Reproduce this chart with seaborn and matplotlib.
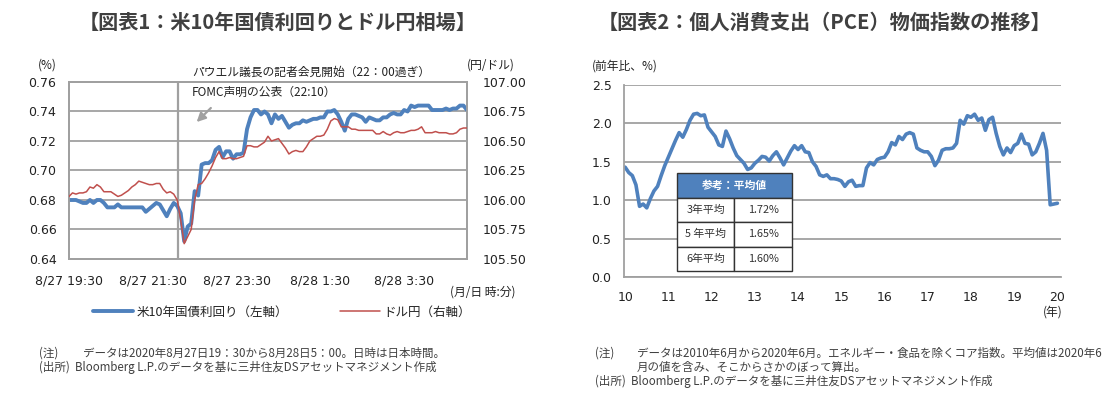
import matplotlib
matplotlib.use("Agg")
import matplotlib.pyplot as plt
import seaborn as sns
import numpy as np
import pandas as pd

# ---------------------------------------------------------------
# data : chart 1 (5-minute steps from 8/27 19:30 to 8/28 5:00)
# ---------------------------------------------------------------
minutes = list(range(0, 575, 5))

us10y = [
    0.680, 0.680, 0.680, 0.679, 0.678, 0.678, 0.680, 0.678, 0.680, 0.680,
    0.678, 0.675, 0.675, 0.675, 0.677, 0.675, 0.675, 0.675, 0.675, 0.675,
    0.675, 0.675, 0.672, 0.674, 0.676, 0.678, 0.677, 0.673, 0.669, 0.674,
    0.678, 0.676, 0.671, 0.652, 0.662, 0.664, 0.686, 0.683, 0.704, 0.705,
    0.705, 0.707, 0.714, 0.716, 0.709, 0.713, 0.713, 0.708, 0.711, 0.711,
    0.712, 0.728, 0.736, 0.741, 0.741, 0.738, 0.740, 0.738, 0.732, 0.738,
    0.735, 0.737, 0.733, 0.729, 0.731, 0.732, 0.732, 0.734, 0.733, 0.734,
    0.735, 0.735, 0.736, 0.736, 0.740, 0.740, 0.741, 0.738, 0.733, 0.727,
    0.735, 0.738, 0.738, 0.737, 0.736, 0.733, 0.736, 0.735, 0.734, 0.734,
    0.736, 0.736, 0.738, 0.739, 0.738, 0.738, 0.741, 0.740, 0.744, 0.743,
    0.744, 0.744, 0.744, 0.744, 0.741, 0.741, 0.741, 0.741, 0.742, 0.741,
    0.742, 0.742, 0.744, 0.744, 0.741,
]

usdjpy = [
    106.03, 106.06, 106.05, 106.06, 106.06, 106.07, 106.11, 106.10, 106.13, 106.11,
    106.07, 106.07, 106.07, 106.05, 106.03, 106.04, 106.06, 106.08, 106.11, 106.13,
    106.16, 106.15, 106.14, 106.13, 106.13, 106.14, 106.14, 106.09, 106.06, 106.07,
    106.05, 106.00, 105.83, 105.63, 105.69, 105.75, 106.00, 106.13, 106.14, 106.18,
    106.23, 106.29, 106.36, 106.41, 106.35, 106.35, 106.36, 106.35, 106.35, 106.36,
    106.37, 106.46, 106.46, 106.45, 106.45, 106.47, 106.49, 106.54, 106.50, 106.51,
    106.52, 106.48, 106.44, 106.39, 106.41, 106.42, 106.41, 106.41, 106.45, 106.50,
    106.52, 106.54, 106.54, 106.55, 106.60, 106.67, 106.69, 106.68, 106.62, 106.62,
    106.62, 106.60, 106.60, 106.59, 106.59, 106.59, 106.59, 106.59, 106.56, 106.56,
    106.58, 106.56, 106.55, 106.57, 106.58, 106.57, 106.57, 106.58, 106.59, 106.59,
    106.60, 106.62, 106.57, 106.57, 106.57, 106.58, 106.57, 106.57, 106.57, 106.56,
    106.56, 106.57, 106.60, 106.61, 106.61,
]

time_ticks = [0, 120, 240, 360, 480]
time_labels = ["8/27 19:30", "8/27 21:30", "8/27 23:30", "8/28 1:30", "8/28 3:30"]
fomc_minute = 156

# ---------------------------------------------------------------
# data : chart 2 (core PCE y/y, monthly, 2010/6 - 2020/6)
# ---------------------------------------------------------------
pce = [
    1.43, 1.36, 1.32, 1.20, 0.92, 0.95, 0.90, 1.02, 1.12, 1.18,
    1.32, 1.45, 1.56, 1.67, 1.78, 1.88, 1.82, 1.92, 2.04, 2.12,
    2.13, 2.10, 2.11, 1.95, 1.89, 1.83, 1.72, 1.70, 1.90, 1.80,
    1.68, 1.58, 1.53, 1.48, 1.40, 1.42, 1.48, 1.52, 1.57, 1.56,
    1.51, 1.58, 1.63, 1.55, 1.46, 1.55, 1.64, 1.71, 1.66, 1.71,
    1.63, 1.62, 1.50, 1.44, 1.33, 1.31, 1.33, 1.28, 1.28, 1.27,
    1.25, 1.18, 1.24, 1.26, 1.18, 1.19, 1.19, 1.42, 1.49, 1.46,
    1.53, 1.55, 1.56, 1.63, 1.75, 1.72, 1.83, 1.79, 1.86, 1.88,
    1.86, 1.68, 1.65, 1.63, 1.63, 1.57, 1.45, 1.52, 1.65, 1.67,
    1.67, 1.68, 1.74, 2.04, 1.99, 2.10, 2.08, 2.12, 2.04, 2.07,
    1.91, 2.05, 2.08, 1.87, 1.70, 1.59, 1.68, 1.62, 1.71, 1.74,
    1.86, 1.74, 1.73, 1.59, 1.63, 1.74, 1.87, 1.65, 0.94, 0.95,
    0.96,
]
year_labels = ["10", "11", "12", "13", "14", "15", "16", "17", "18", "19", "20"]
avg_title = "参考：平均値"
avg_rows = [["3年平均", "1.72%"], ["5 年平均", "1.65%"], ["6年平均", "1.60%"]]

assert len(us10y) == len(minutes) == len(usdjpy)

df1 = pd.DataFrame({"minute": minutes, "us10y": us10y, "usdjpy": usdjpy})
df2 = pd.DataFrame({"month": np.arange(len(pce)), "pce": pce})

# ---------------------------------------------------------------
# style
# ---------------------------------------------------------------
sns.set_theme(style="white")
plt.rcParams["font.family"] = ["Noto Sans CJK JP", "DejaVu Sans"]
plt.rcParams["axes.unicode_minus"] = False

BLUE = "#4f81bd"
RED = "#c0504d"
GRID = "#a0a0a0"
TXT = "#404040"
NUM = ["DejaVu Sans", "Noto Sans CJK JP"]
NOTE = 8.3

fig = plt.figure(figsize=(11.11, 3.97), dpi=100)

# ── chart 1 ────────────────────────────────────────────────────
ax = fig.add_axes([0.0621, 0.3476, 0.3582, 0.4459])
ax2 = ax.twinx()

sns.lineplot(data=df1, x="minute", y="us10y", ax=ax, color=BLUE, linewidth=2.8,
             label="米10年国債利回り（左軸）", legend=False, zorder=4)
sns.lineplot(data=df1, x="minute", y="usdjpy", ax=ax2, color=RED, linewidth=1.1,
             label="ドル円（右軸）", legend=False, zorder=3)

ax.set_xlim(0, 570)
ax.set_ylim(0.64, 0.76)
ax.set_yticks(np.arange(0.64, 0.7601, 0.02))
ax.yaxis.set_major_formatter(matplotlib.ticker.FormatStrFormatter("%.2f"))
ax2.set_ylim(105.5, 107.0)
ax2.set_yticks(np.arange(105.5, 107.001, 0.25))
ax2.yaxis.set_major_formatter(matplotlib.ticker.FormatStrFormatter("%.2f"))
ax.set_xticks(time_ticks)
ax.set_xticklabels(time_labels)
ax.grid(axis="y", color=GRID, linewidth=1.3)
ax.set_axisbelow(True)
ax.axvline(fomc_minute, color=GRID, linewidth=1.6, zorder=2)
ax.set_xlabel("")
ax.set_ylabel("")
ax2.set_ylabel("")
for a in (ax, ax2):
    for s in a.spines.values():
        s.set_color(GRID)
        s.set_linewidth(1.3)
ax.tick_params(axis="y", length=0, pad=9, labelsize=9, labelcolor="#222222")
ax2.tick_params(axis="y", length=0, pad=11, labelsize=9, labelcolor="#222222")
ax.tick_params(axis="x", direction="in", length=5, color=GRID, width=1.2,
               pad=11, labelsize=9, labelcolor="#222222")
for lab in ax.get_xticklabels() + ax.get_yticklabels() + ax2.get_yticklabels():
    lab.set_family(NUM)

# arrow to the FOMC line
ax.annotate("", xy=(180, 0.7315), xytext=(206, 0.7437),
            arrowprops=dict(arrowstyle="-|>", color="#a0a0a0", lw=1.6,
                            mutation_scale=13))
fig.text(192 / 1111, 1 - 72 / 397, "パウエル議長の記者会見開始（22：00過ぎ）",
         fontsize=8.5, color="#222222", va="center")
fig.text(192 / 1111, 1 - 92 / 397, "FOMC声明の公表（22:10）",
         fontsize=8.5, color="#222222", va="center")
fig.text(38 / 1111, 1 - 65 / 397, "(%)", fontsize=8.5, color="#222222", va="center")
fig.text(467 / 1111, 1 - 65 / 397, "(円/ドル)", fontsize=8.5, color="#222222", va="center")
fig.text(516 / 1111, 1 - 292 / 397, "(月/日 時:分)", fontsize=8.5, color="#222222",
         va="center", ha="right")

h1, l1 = ax.get_legend_handles_labels()
h2, l2 = ax2.get_legend_handles_labels()
fig.legend(h1 + h2, l1 + l2, loc="center left", bbox_to_anchor=(82 / 1111, 1 - 312 / 397),
           ncol=2, frameon=False, fontsize=9, handlelength=3.2, handletextpad=0.3,
           columnspacing=4.1, labelcolor="#222222")

fig.text(278 / 1111, 1 - 22 / 397, "【図表1：米10年国債利回りとドル円相場】",
         fontsize=14.5, fontweight="bold", color=TXT, ha="center", va="center")
fig.text(39 / 1111, 1 - 353 / 397, "(注)", fontsize=NOTE, color=TXT, va="center")
fig.text(83 / 1111, 1 - 353 / 397, "データは2020年8月27日19：30から8月28日5：00。日時は日本時間。",
         fontsize=NOTE, color=TXT, va="center")
fig.text(39 / 1111, 1 - 367 / 397, "(出所)  Bloomberg L.P.のデータを基に三井住友DSアセットマネジメント作成",
         fontsize=NOTE, color=TXT, va="center")

# ── chart 2 ────────────────────────────────────────────────────
bx = fig.add_axes([0.5617, 0.3023, 0.3933, 0.4836])
sns.lineplot(data=df2, x="month", y="pce", ax=bx, color=BLUE, linewidth=2.6)
bx.set_xlim(-0.3, 121)
bx.set_ylim(0, 2.5)
bx.set_yticks(np.arange(0, 2.501, 0.5))
bx.yaxis.set_major_formatter(matplotlib.ticker.FormatStrFormatter("%.1f"))
bx.set_xticks(np.arange(0, 121, 12))
bx.set_xticklabels(year_labels)
bx.grid(axis="y", color=GRID, linewidth=1.3)
bx.set_axisbelow(True)
bx.set_xlabel("")
bx.set_ylabel("")
for side in ("top", "right"):
    bx.spines[side].set_visible(False)
for side in ("left", "bottom"):
    bx.spines[side].set_color(GRID)
    bx.spines[side].set_linewidth(1.3)
bx.tick_params(axis="y", length=0, pad=9, labelsize=9, labelcolor="#222222")
bx.tick_params(axis="x", direction="in", length=5, color=GRID, width=1.2,
               pad=10, labelsize=9, labelcolor="#222222")
for lab in bx.get_xticklabels() + bx.get_yticklabels():
    lab.set_family(NUM)

# average table: header and body
head = bx.table(cellText=[[avg_title]], cellLoc="center",
                bbox=[0.121, 0.031 + 0.51 * 0.75, 0.263, 0.51 * 0.25], zorder=5)
body = bx.table(cellText=avg_rows, cellLoc="center",
                bbox=[0.121, 0.031, 0.263, 0.51 * 0.75], zorder=5)
for t in (head, body):
    t.auto_set_font_size(False)
    t.set_fontsize(7.8)
    for (r, c), cell in t.get_celld().items():
        cell.set_edgecolor("#333333")
        cell.set_linewidth(1.0)
        cell.get_text().set_color("#333333")
        cell.set_facecolor("white")
hc = head[0, 0]
hc.set_facecolor(BLUE)
hc.get_text().set_color("white")
hc.get_text().set_fontweight("bold")

fig.text(658 / 1111, 1 - 66 / 397, "(前年比、%)", fontsize=8.5, color="#222222",
         va="center", ha="right")
fig.text(1053 / 1111, 1 - 312 / 397, "(年)", fontsize=8.5, color="#222222",
         va="center", ha="center")
fig.text(824 / 1111, 1 - 22 / 397, "【図表2：個人消費支出（PCE）物価指数の推移】",
         fontsize=14.5, fontweight="bold", color=TXT, ha="center", va="center")
fig.text(595 / 1111, 1 - 353 / 397, "(注)", fontsize=NOTE, color=TXT, va="center")
fig.text(637 / 1111, 1 - 353 / 397,
         "データは2010年6月から2020年6月。エネルギー・食品を除くコア指数。平均値は2020年6",
         fontsize=NOTE, color=TXT, va="center")
fig.text(637 / 1111, 1 - 367 / 397, "月の値を含み、そこからさかのぼって算出。",
         fontsize=NOTE, color=TXT, va="center")
fig.text(595 / 1111, 1 - 381 / 397,
         "(出所)  Bloomberg L.P.のデータを基に三井住友DSアセットマネジメント作成",
         fontsize=NOTE, color=TXT, va="center")

plt.savefig("out.png", dpi=100)
plt.close()
